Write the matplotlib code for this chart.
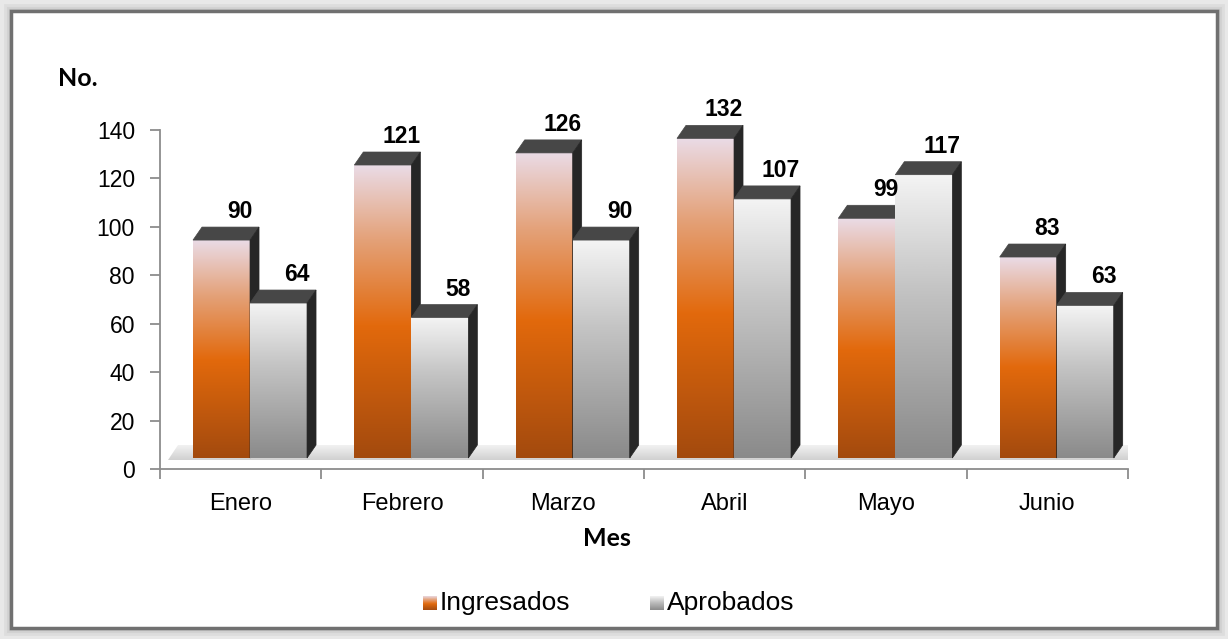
import numpy as np
import matplotlib
matplotlib.use("Agg")
import matplotlib.pyplot as plt
from matplotlib.patches import Polygon, Rectangle
from matplotlib.colors import LinearSegmentedColormap

meses = ["Enero", "Febrero", "Marzo", "Abril", "Mayo", "Junio"]
ingresados = [90, 121, 126, 132, 99, 83]
aprobados = [64, 58, 90, 107, 117, 63]
series_names = ["Ingresados", "Aprobados"]
yticks = [0, 20, 40, 60, 80, 100, 120, 140]

W, H = 1228, 639
fig = plt.figure(figsize=(W / 100, H / 100), dpi=100)
fig.patch.set_facecolor("#e8e8e8")

# frame
frame_ax = fig.add_axes([0, 0, 1, 1])
frame_ax.set_xlim(0, W); frame_ax.set_ylim(H, 0); frame_ax.axis("off")
frame_ax.add_patch(Rectangle((11, 11), W - 22, H - 22, facecolor="white",
                             edgecolor="#707070", lw=2.5, zorder=1))
for i, c in enumerate(["#c4c4c4", "#d2d2d2", "#dddddd"]):
    frame_ax.add_patch(Rectangle((9 - i * 2, 9 - i * 2), W - 18 + i * 4, H - 18 + i * 4,
                                 facecolor="none", edgecolor=c, lw=2, zorder=0.5))

font = "Liberation Sans"
orange_cmap = LinearSegmentedColormap.from_list(
    "o", [(0, "#a34a0e"), (0.45, "#e2690c"), (0.75, "#e4a27a"), (1.0, "#eadbe6")])
gray_cmap = LinearSegmentedColormap.from_list(
    "g", [(0, "#8a8a8a"), (0.6, "#c4c4c4"), (1.0, "#f4f4f4")])
grad = np.linspace(0, 1, 256).reshape(-1, 1)

ax = fig.add_axes([160 / W, 1 - 469 / H, (1128 - 160) / W, (469 - 130) / H])
ax.set_facecolor("none")

px_x = 1 / 161.3          # data units per px horizontally
px_y = 140 / 339.0        # data units per px vertically
dx = 9 * px_x
dy = 13 * px_y
base = 11 * px_y
bw = 57 * px_x
off_o = 33 * px_x - 0.5
off_g = off_o + bw

# floor
fx = [(168 - 160) * px_x - 0.5, (1130 - 160) * px_x - 0.5,
      (1145 - 160) * px_x - 0.5, (178 - 160) * px_x - 0.5]
fy = [(469 - 460) * px_y, (469 - 460) * px_y, (469 - 445) * px_y, (469 - 445) * px_y]
floor = Polygon(list(zip(fx, fy)), closed=True, facecolor="none", edgecolor="none")
ax.add_patch(floor)
fim = ax.imshow(np.linspace(0, 1, 64).reshape(-1, 1), cmap=LinearSegmentedColormap.from_list(
    "f", [(0, "#d0d0d0"), (1, "#f2f2f2")]), extent=[fx[0], fx[2], fy[0], fy[2]],
    origin="lower", aspect="auto", zorder=1, interpolation="bicubic")
fim.set_clip_path(floor)


def bar3d(x0, v, cmap, z):
    y0, y1 = base, base + v
    im = ax.imshow(grad, cmap=cmap, extent=[x0, x0 + bw, y0, y1], origin="lower",
                   aspect="auto", zorder=z, interpolation="bicubic")
    im.set_clip_on(False)
    top = Polygon([(x0, y1), (x0 + bw, y1), (x0 + bw + dx, y1 + dy), (x0 + dx, y1 + dy)],
                  closed=True, facecolor="#474747", edgecolor="#474747", lw=0.5,
                  zorder=z, clip_on=False)
    side = Polygon([(x0 + bw, y0), (x0 + bw + dx, y0 + dy), (x0 + bw + dx, y1 + dy), (x0 + bw, y1)],
                   closed=True, facecolor="#262626", edgecolor="#262626", lw=0.5,
                   zorder=z, clip_on=False)
    ax.add_patch(top)
    ax.add_patch(side)
    ax.text(x0 + bw / 2 + 0.115, y1 + dy + 9 * px_y, str(v), ha="center", va="baseline",
            fontsize=16.5, fontweight="bold", family=font, zorder=10, clip_on=False)


for i in range(len(meses)):
    bar3d(i + off_o, ingresados[i], orange_cmap, 2 + i * 0.1)
    bar3d(i + off_g, aprobados[i], gray_cmap, 2.05 + i * 0.1)

ax.set_xlim(-0.5, 5.5)
ax.set_ylim(0, 140)
for s in ["top", "right"]:
    ax.spines[s].set_visible(False)
for s in ["left", "bottom"]:
    ax.spines[s].set_color("#8c8c8c")
    ax.spines[s].set_linewidth(1.3)
ax.set_yticks(yticks)
ax.set_yticklabels([str(t) for t in yticks], fontsize=16.5, family=font)
ax.tick_params(axis="y", length=7, width=1.3, color="#8c8c8c", pad=11)
ax.set_xticks(range(len(meses)))
ax.set_xticklabels(meses, fontsize=17, family=font)
ax.set_xticks(np.arange(-0.5, 6.0, 1.0), minor=True)
ax.tick_params(axis="x", which="major", length=0, pad=17)
ax.tick_params(axis="x", which="minor", length=7, width=1.3, color="#8c8c8c")

fig.text(58 / W, 1 - 78 / H, "No.", fontsize=18, fontweight="bold", family="Lato",
         va="center", ha="left")
fig.text(607 / W, 1 - 538 / H, "Mes", fontsize=18, fontweight="bold", family="Lato",
         va="center", ha="center")

# legend
for (mx, tx, cmap, name) in [(423, 440, orange_cmap, series_names[0]),
                             (650, 667, gray_cmap, series_names[1])]:
    lax = fig.add_axes([mx / W, 1 - 610 / H, 14 / W, 14 / H])
    lax.imshow(grad, cmap=cmap, origin="lower", aspect="auto", interpolation="bicubic")
    lax.axis("off")
    fig.text(tx / W, 1 - 603 / H, name, fontsize=19, family=font, va="center", ha="left")

fig.savefig("out.png", dpi=100, facecolor=fig.get_facecolor())
